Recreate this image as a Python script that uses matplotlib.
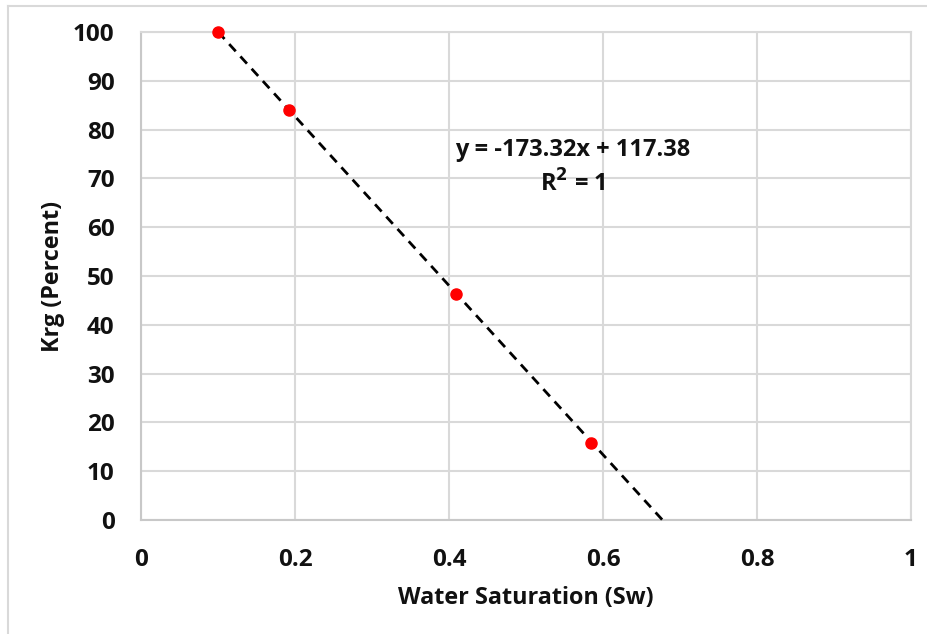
import matplotlib
matplotlib.use("Agg")
import matplotlib.pyplot as plt
import numpy as np
from matplotlib.lines import Line2D

plt.rcParams['font.family'] = ['Open Sans', 'DejaVu Sans']

# Measured relative permeability to gas vs water saturation
sw = [0.100, 0.192, 0.409, 0.584]
krg = [100.0, 84.0, 46.3, 15.8]

# Linear trendline coefficients
slope = -173.32
intercept = 117.38
r_squared = 1

x_ticks = [0, 0.2, 0.4, 0.6, 0.8, 1]
x_tick_labels = ["0", "0.2", "0.4", "0.6", "0.8", "1"]
y_ticks = list(range(0, 101, 10))

fig = plt.figure(figsize=(9.28, 6.34), dpi=100)
ax = fig.add_axes([0.1519, 0.1798, 0.8298, 0.7697])

txt_c = "#111111"
grid_c = "#d9d9d9"
ax.set_xlim(0, 1)
ax.set_ylim(0, 100)
ax.set_xticks(x_ticks)
ax.set_xticklabels(x_tick_labels)
ax.set_yticks(y_ticks)
ax.grid(True, color=grid_c, linewidth=1.5)
ax.set_axisbelow(True)
for s in ax.spines.values():
    s.set_color(grid_c)
    s.set_linewidth(1.5)
ax.spines['bottom'].set_color("#c8c8c8")
ax.spines['left'].set_color("#c8c8c8")
ax.tick_params(length=0, labelsize=17.5, colors=txt_c)
ax.tick_params(axis='y', pad=19)
ax.tick_params(axis='x', pad=20)
for lbl in ax.get_xticklabels() + ax.get_yticklabels():
    lbl.set_fontweight('bold')

# Trendline from the first sample down to zero Krg
x_start = sw[0]
x_end = -intercept / slope
xt = np.array([x_start, x_end])
ax.plot(xt, slope * xt + intercept, color="black", linewidth=2,
        linestyle=(0, (3.5, 2.5)), zorder=3, clip_on=False)

ax.plot(sw, krg, linestyle="none", marker="o", markersize=8,
        color="#ff0000", zorder=4, clip_on=False)

ax.text(0.5605, 75.8, f"y = {slope:.2f}x + {intercept:.2f}",
        ha="center", va="center", fontsize=17, fontweight="bold",
        color=txt_c)
ax.text(0.5605, 68.8, f"R$^\\mathbf{{2}}$ = {r_squared}",
        ha="center", va="center", fontsize=17, fontweight="bold",
        color=txt_c)

ax.set_xlabel("Water Saturation (Sw)", fontsize=16.8, fontweight="bold",
              color=txt_c, labelpad=10)
ax.set_ylabel("Krg (Percent)", fontsize=16.8, fontweight="bold",
              color=txt_c, labelpad=6)

# Chart area frame
fig.add_artist(Line2D([8 / 928, 1], [1 - 6 / 634, 1 - 6 / 634],
                      transform=fig.transFigure, color="#d9d9d9", linewidth=1.5))
fig.add_artist(Line2D([8 / 928, 8 / 928], [0, 1 - 6 / 634],
                      transform=fig.transFigure, color="#d9d9d9", linewidth=1.5))

fig.savefig("out.png", dpi=100)
